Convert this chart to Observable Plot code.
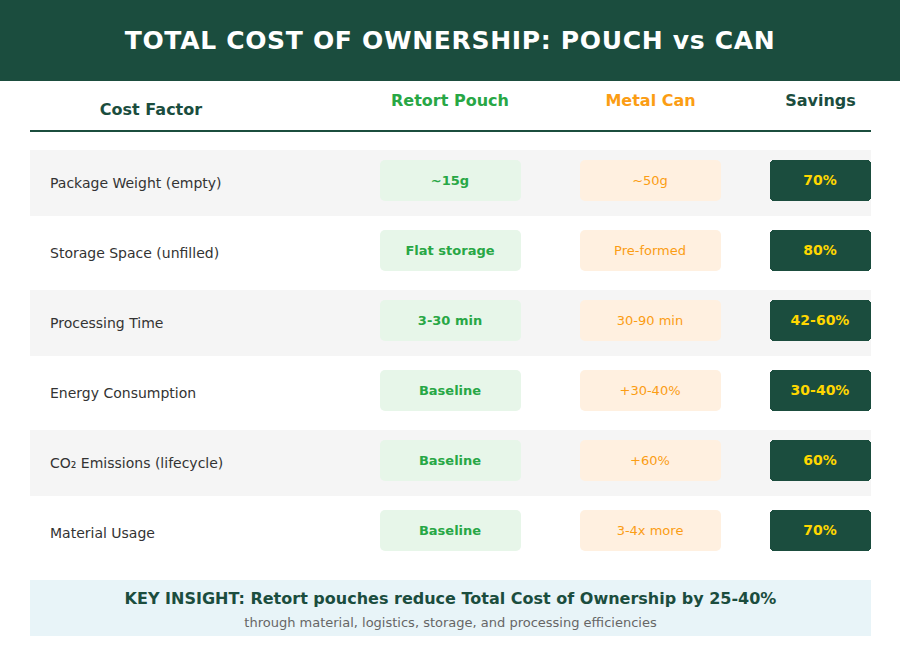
<!DOCTYPE html>
<html><head><meta charset="utf-8">
<script src="https://cdn.jsdelivr.net/npm/d3@7"></script>
<script src="https://cdn.jsdelivr.net/npm/@observablehq/plot@0.6"></script>
<style>
html,body{margin:0;padding:0;background:#fff;font-family:"DejaVu Sans",sans-serif}
#title{height:81px;background:#1b4d3e;color:#fff;font-size:25px;letter-spacing:0.68px;font-weight:bold;text-align:center;line-height:82px}
#foot{position:absolute;left:30px;top:580px;width:841px;height:56px;background:#e8f4f8;text-align:center}
#foot .a{position:absolute;left:0;right:0;top:9px;font-size:16px;line-height:20px;font-weight:bold;color:#1b4d3e}
#foot .b{position:absolute;left:0;right:0;top:34px;font-size:13px;line-height:17px;color:#666}
svg{display:block}
</style></head><body>
<div id="title">TOTAL COST OF OWNERSHIP: POUCH vs CAN</div>
<div id="chart"></div>
<div id="foot"><div class="a">KEY INSIGHT: Retort pouches reduce Total Cost of Ownership by 25-40%</div><div class="b">through material, logistics, storage, and processing efficiencies</div></div>
<script>
const headers = ["Cost Factor", "Retort Pouch", "Metal Can", "Savings"];
const factors = ["Package Weight (empty)", "Storage Space (unfilled)", "Processing Time", "Energy Consumption", "CO₂ Emissions (lifecycle)", "Material Usage"];
const pouch = ["~15g", "Flat storage", "3-30 min", "Baseline", "Baseline", "Baseline"];
const can = ["~50g", "Pre-formed", "30-90 min", "+30-40%", "+60%", "3-4x more"];
const savings = ["70%", "80%", "42-60%", "30-40%", "60%", "70%"];

const green = "#28a745", orange = "#fb9d14", dark = "#1b4d3e", gold = "#ffd700";
const idx = d3.range(factors.length);
const y = i => factors[i];
const pills = (x1, x2, fill, extra = {}) => Plot.barX(idx, {y, x1: () => x1, x2: () => x2, fill, insetTop: 10, insetBottom: 15, rx: 5, ...extra});
const cells = (values, x, fill, extra = {}) => Plot.text(idx, {y, x: () => x, text: i => values[i], fill, dy: -3, fontSize: 13, ...extra});
const head = (i, x, fill, dy) => Plot.text([headers[i]], {y: () => "header", x: () => x, text: d => d, fill, dy, fontSize: 16, fontWeight: "bold"});

const chart = Plot.plot({
  width: 900, height: 499, margin: 0,
  x: {type: "linear", domain: [0, 900], range: [0, 900], axis: null},
  y: {type: "band", domain: ["header", ...factors], range: [-1, 485], paddingInner: 4 / 70, paddingOuter: 0, axis: null},
  style: {fontFamily: "DejaVu Sans", background: "transparent"},
  marks: [
    Plot.barX(idx.filter(i => i % 2 === 0), {y, x1: () => 30, x2: () => 871, fill: "#f5f5f5"}),
    head(0, 150.5, dark, -4),
    head(1, 449.5, green, -13),
    head(2, 650, orange, -13),
    head(3, 820, dark, -13),
    Plot.ruleY(["header"], {x1: () => 30, x2: () => 871, stroke: dark, strokeWidth: 2, dy: 17.5}),
    pills(380, 521, "#e7f6e9"),
    pills(580, 721, "#fff0e0"),
    pills(770, 871, dark, {shapeRendering: "crispEdges", rx: 4}),
    Plot.text(idx, {y, x: () => 49.5, text: i => factors[i], textAnchor: "start", fill: "#333", fontSize: 14}),
    cells(pouch, 449.5, green, {fontWeight: "bold"}),
    cells(can, 649.5, orange),
    cells(savings, 819.5, gold, {fontWeight: "bold", fontSize: 14})
  ]
});
document.getElementById("chart").append(chart);
</script></body></html>
